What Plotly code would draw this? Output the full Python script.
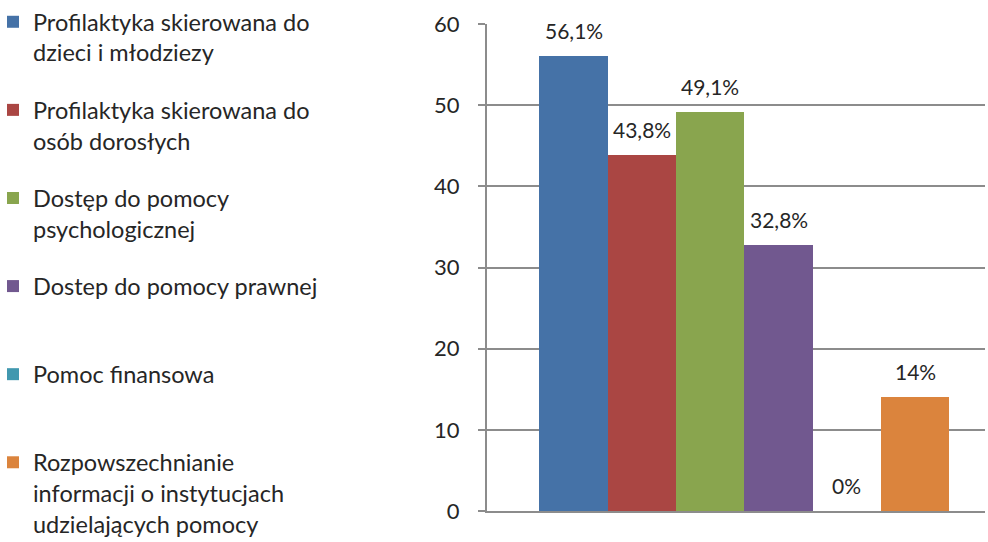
import plotly.graph_objects as go

# ---- data ----
categories = [
    "Profilaktyka skierowana do<br>dzieci i młodziezy",
    "Profilaktyka skierowana do<br>osób dorosłych",
    "Dostęp do pomocy<br>psychologicznej",
    "Dostep do pomocy prawnej",
    "Pomoc finansowa",
    "Rozpowszechnianie<br>informacji o instytucjach<br>udzielających pomocy",
]
values = [56.1, 43.8, 49.1, 32.8, 0, 14]
colors = ["#4572A7", "#AA4643", "#89A54E", "#71588F", "#4198AF", "#DB843D"]
y_ticks = [0, 10, 20, 30, 40, 50, 60]

labels = [f"{v:g}".replace(".", ",") + "%" for v in values]

FONT = "Lato, 'DejaVu Sans', sans-serif"
GRID = "#8c8c8c"
TXT = "#262626"

fig = go.Figure()
for i, (name, v, c) in enumerate(zip(categories, values, colors)):
    nlines = name.count("<br>") + 1
    legend_name = name + "<br> " * max(0, 2 - nlines)
    fig.add_trace(go.Bar(
        x=[f"c{i}"], y=[v], name=legend_name, legendgroup=f"g{i}",
        marker=dict(color=c, line=dict(width=0)),
        hoverinfo="skip",
    ))

annotations = []
for i, (v, t) in enumerate(zip(values, labels)):
    annotations.append(dict(
        x=f"c{i}", y=v, xref="x", yref="y", text=t, showarrow=False,
        yanchor="bottom", yshift=11,
        font=dict(family=FONT, size=21, color=TXT),
    ))

fig.update_layout(
    width=988, height=542,
    margin=dict(l=487, r=3, t=24, b=31, autoexpand=False),
    paper_bgcolor="white", plot_bgcolor="white",
    barmode="overlay", bargap=0,
    font=dict(family=FONT, color=TXT),
    showlegend=True,
    legend=dict(
        x=-0.992, xanchor="left", xref="paper",
        y=1.0, yanchor="top", yref="container",
        valign="top",
        traceorder="grouped",
        tracegroupgap=24,
        maxheight=900,
        font=dict(family=FONT, size=23.5, color=TXT),
        bgcolor="rgba(0,0,0,0)",
    ),
    annotations=annotations,
    xaxis=dict(
        range=[-1.266, 6.022], showticklabels=False, showgrid=False,
        zeroline=False, showline=True, linecolor=GRID, linewidth=2,
        ticks="", fixedrange=True,
    ),
    yaxis=dict(
        range=[0, 60], tickvals=y_ticks, showgrid=True, gridcolor=GRID,
        gridwidth=2, zeroline=False, showline=True, linecolor=GRID,
        linewidth=2, ticks="outside", ticklen=7, tickcolor=GRID, tickwidth=2,
        ticklabelstandoff=14, fixedrange=True,
        tickfont=dict(family=FONT, size=22, color=TXT),
    ),
)

fig.write_html(
    "out.html",
    config={"displayModeBar": False},
    post_script="document.body.style.margin='0';",
)
